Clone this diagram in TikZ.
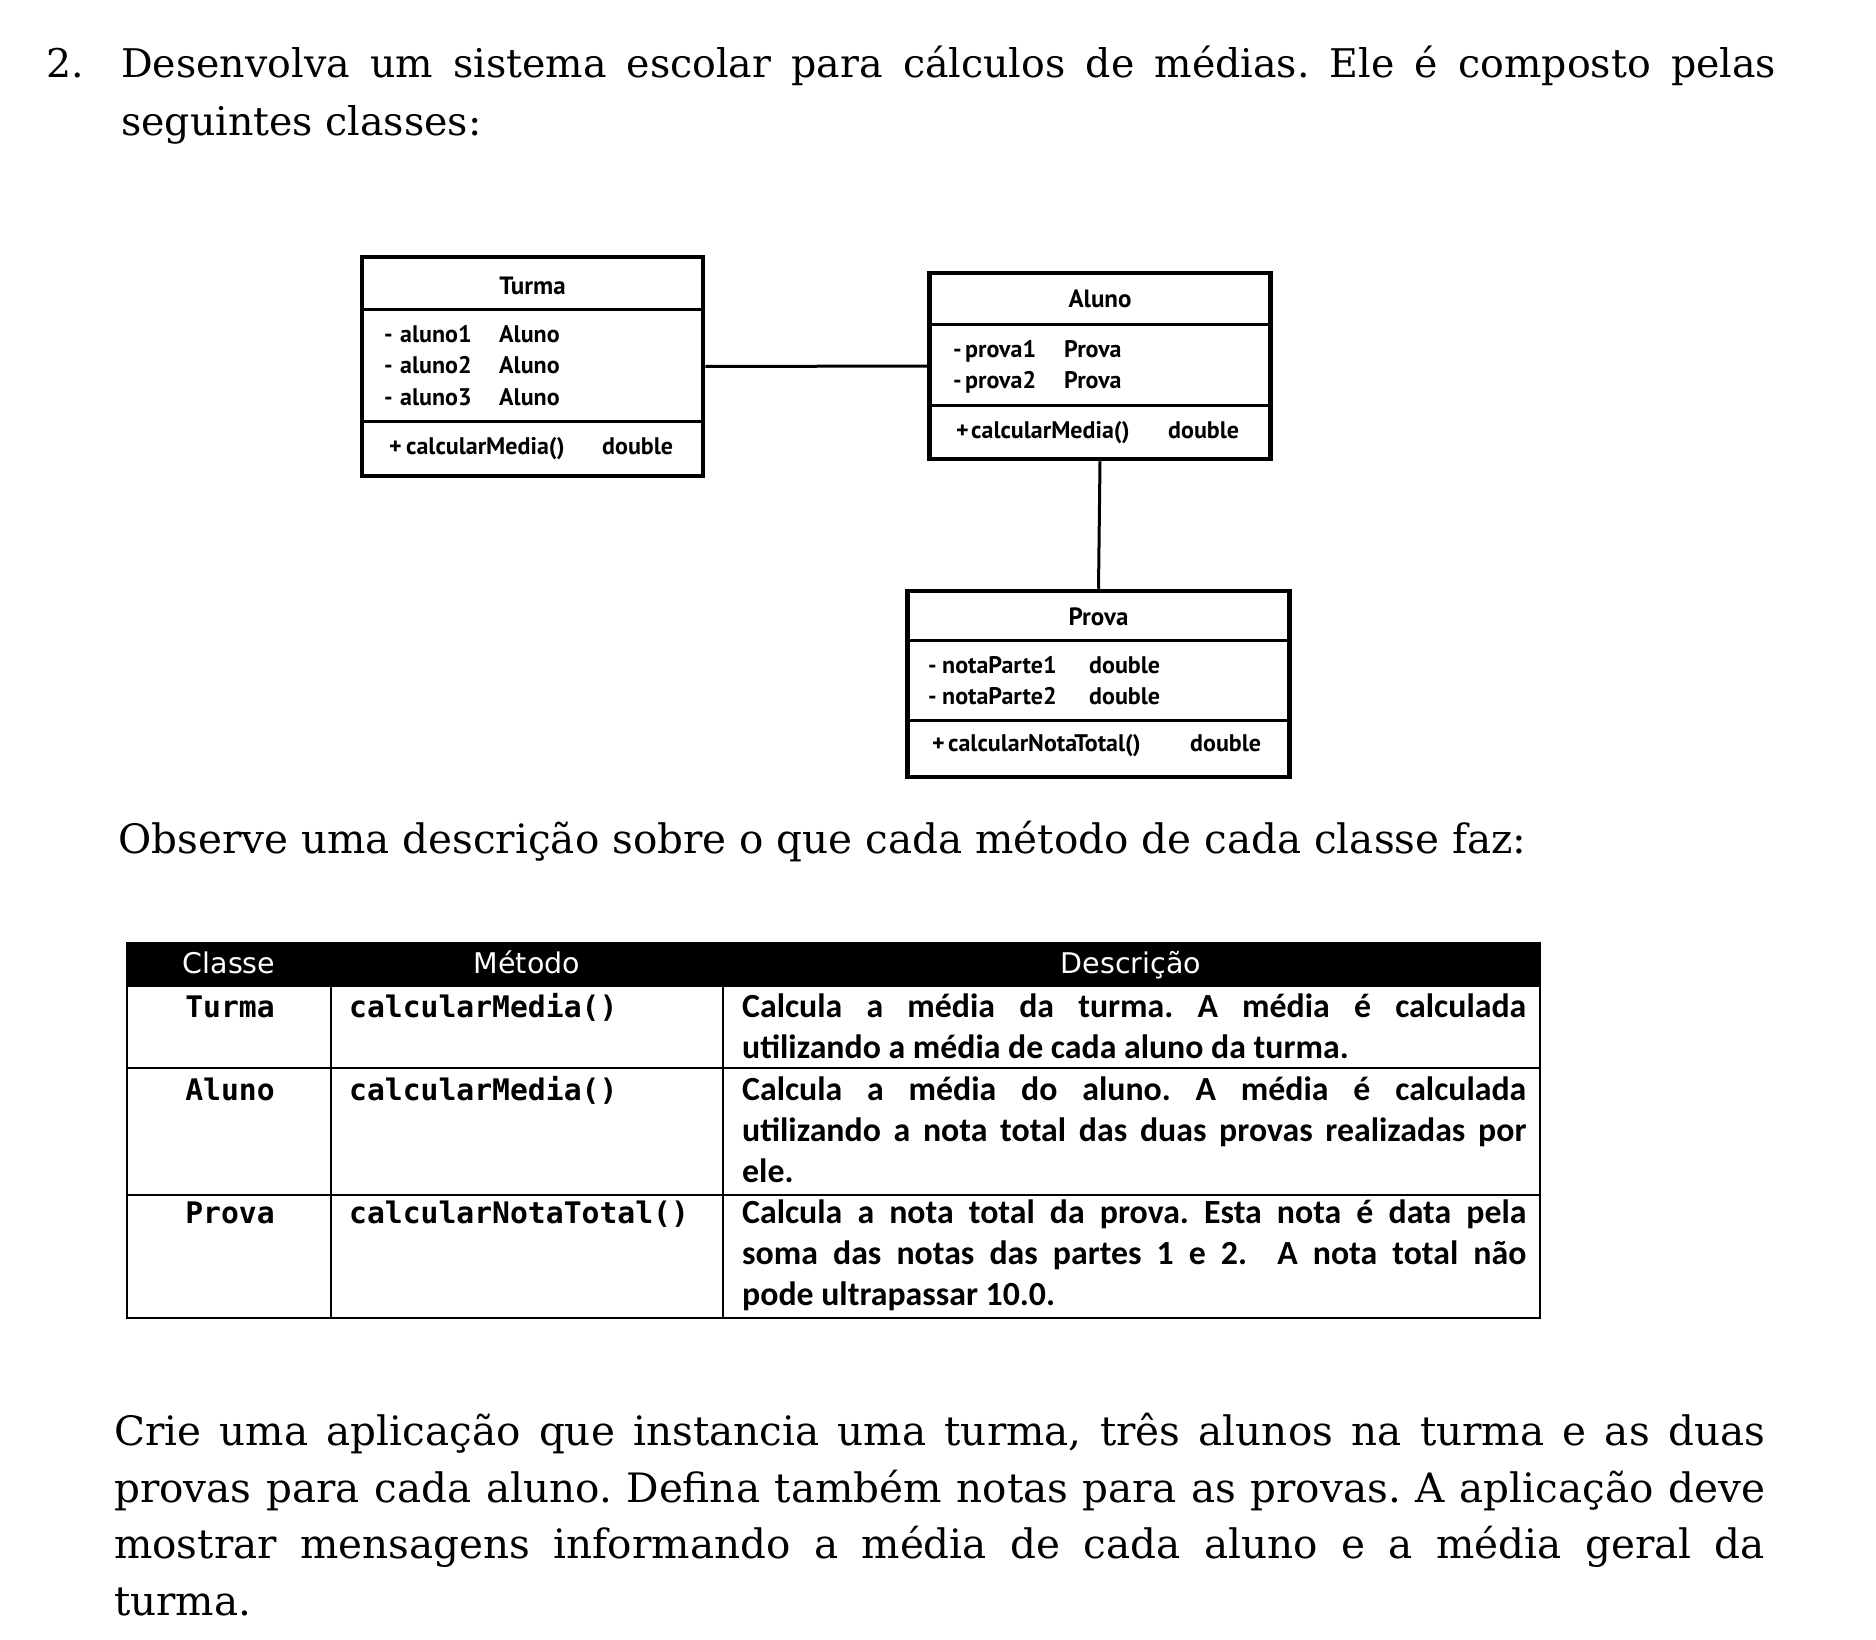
\documentclass[tikz,border=0pt]{standalone}
\usepackage{fontspec}
\setmainfont{DejaVu Serif}
\newfontfamily\umlfont{PT Sans}
\newfontfamily\headfont{DejaVu Sans}
\newfontfamily\descfont{Carlito}
\newfontfamily\codefont{DejaVu Sans Mono}
\usetikzlibrary{positioning}
\frenchspacing

\tikzset{
  classbox/.style={draw, line width=4.5pt, inner sep=0pt},
  divider/.style={line width=3pt},
  assoc/.style={line width=3pt},
  member/.style={anchor=base west, inner sep=0pt, font=\umlfont\bfseries\fontsize{24}{24}\selectfont},
  classname/.style={anchor=base, inner sep=0pt, font=\umlfont\bfseries\fontsize{25}{25}\selectfont},
  grid/.style={line width=2.5pt},
  headtext/.style={anchor=base, inner sep=0pt, text=white, font=\headfont\fontsize{28.5}{28.5}\selectfont},
  codetext/.style={anchor=base west, inner sep=0pt, font=\codefont\bfseries\fontsize{29.7}{29.7}\selectfont},
  desctext/.style={anchor=base west, inner sep=0pt, font=\descfont\bfseries\fontsize{33.8}{33.8}\selectfont},
  toptext/.style={anchor=base west, inner sep=0pt, font=\fontsize{39.5}{39.5}\selectfont},
  bodytext/.style={anchor=base west, inner sep=0pt, font=\fontsize{40.5}{40.5}\selectfont}
}

\begin{document}
\begin{tikzpicture}[x=1pt, y=-1pt]
  \fill[white] (0,0) rectangle (1876,1640);
  \useasboundingbox (0,0) rectangle (1876,1640);

  % Statement
  \node[toptext] (num)    at (46,78)  {2.};
  \node[toptext] (intro1) at (121,78) {\makebox[1655pt][s]{Desenvolva um sistema escolar para cálculos de médias. Ele é composto pelas}};
  \node[toptext] (intro2) at (121,136) {seguintes classes:};

  % Classes
  \node[classbox, minimum width=341pt, minimum height=219pt] (turma) at (532.5,366.5) {};
  \node[classbox, minimum width=341pt, minimum height=186pt] (aluno) at (1100,366) {};
  \node[classbox, minimum width=382pt, minimum height=186pt] (prova) at (1098.5,684) {};

  \draw[divider] (362,309) -- (703,309);
  \draw[divider] (362,421) -- (703,421);
  \draw[divider] (929.5,324) -- (1270.5,324);
  \draw[divider] (929.5,405) -- (1270.5,405);
  \draw[divider] (907.5,640) -- (1289.5,640);
  \draw[divider] (907.5,720) -- (1289.5,720);

  \node[classname] (turmaname) at (532.5,294) {Turma};
  \node[member] (turmaa1) at (384,342) {\makebox[16pt][l]{-}\makebox[99pt][l]{aluno1}Aluno};
  \node[member] (turmaa2) at (384,373) {\makebox[16pt][l]{-}\makebox[99pt][l]{aluno2}Aluno};
  \node[member] (turmaa3) at (384,405) {\makebox[16pt][l]{-}\makebox[99pt][l]{aluno3}Aluno};
  \node[member] (turmam1) at (389,454) {\makebox[17pt][l]{+}\makebox[196pt][l]{calcularMedia()}double};

  \node[classname] (alunoname) at (1100,307) {Aluno};
  \node[member] (alunoa1) at (953,357) {\makebox[12pt][l]{-}\makebox[99pt][l]{prova1}Prova};
  \node[member] (alunoa2) at (953,388) {\makebox[12pt][l]{-}\makebox[99pt][l]{prova2}Prova};
  \node[member] (alunom1) at (956,438) {\makebox[15pt][l]{+}\makebox[197pt][l]{calcularMedia()}double};

  \node[classname] (provaname) at (1098.5,625) {Prova};
  \node[member] (provaa1) at (928,673) {\makebox[14pt][l]{-}\makebox[147pt][l]{notaParte1}double};
  \node[member] (provaa2) at (928,704) {\makebox[14pt][l]{-}\makebox[147pt][l]{notaParte2}double};
  \node[member] (provam1) at (932,751) {\makebox[16pt][l]{+}\makebox[242pt][l]{calcularNotaTotal()}double};

  % Associations
  \draw[assoc] (turma) -- (aluno);
  \draw[assoc] (aluno.south) -- (prova.north);

  \node[bodytext] (observe) at (118,853) {Observe uma descrição sobre o que cada método de cada classe faz:};

  % Table
  \fill (127,943) rectangle (1540,987);
  \draw[grid] (127,943) rectangle (1540,1318);
  \draw[grid] (127,1068) -- (1540,1068);
  \draw[grid] (127,1195) -- (1540,1195);
  \draw[grid] (331,987) -- (331,1318);
  \draw[grid] (723,987) -- (723,1318);

  \node[headtext] (hclasse) at (229,973)  {Classe};
  \node[headtext] (hmetodo) at (527,973)  {Método};
  \node[headtext] (hdesc)   at (1131,973) {Descrição};

  \node[codetext, anchor=base] (c1) at (230,1017) {Turma};
  \node[codetext, anchor=base] (c2) at (230,1100) {Aluno};
  \node[codetext, anchor=base] (c3) at (230,1223) {Prova};
  \node[codetext] (m1) at (349,1017) {calcularMedia()};
  \node[codetext] (m2) at (349,1100) {calcularMedia()};
  \node[codetext] (m3) at (349,1223) {calcularNotaTotal()};

  \node[desctext] (d1a) at (742,1017) {\makebox[784pt][s]{Calcula a média da turma. A média é calculada}};
  \node[desctext] (d1b) at (742,1058) {utilizando a média de cada aluno da turma.};
  \node[desctext] (d2a) at (742,1100) {\makebox[784pt][s]{Calcula a média do aluno. A média é calculada}};
  \node[desctext] (d2b) at (742,1141) {\makebox[784pt][s]{utilizando a nota total das duas provas realizadas por}};
  \node[desctext] (d2c) at (742,1182) {ele.};
  \node[desctext] (d3a) at (742,1223) {\makebox[784pt][s]{Calcula a nota total da prova. Esta nota é data pela}};
  \node[desctext] (d3b) at (742,1264) {\makebox[784pt][s]{soma das notas das partes 1 e 2.\ \ A nota total não}};
  \node[desctext] (d3c) at (742,1305) {pode ultrapassar 10.0.};

  % Task
  \node[bodytext] (task1) at (114,1445) {\makebox[1651pt][s]{Crie uma aplicação que instancia uma turma, três alunos na turma e as duas}};
  \node[bodytext] (task2) at (114,1502) {\makebox[1651pt][s]{provas para cada aluno. Defina também notas para as provas. A aplicação deve}};
  \node[bodytext] (task3) at (114,1558) {\makebox[1651pt][s]{mostrar mensagens informando a média de cada aluno e a média geral da}};
  \node[bodytext] (task4) at (114,1615) {turma.};
\end{tikzpicture}
\end{document}
